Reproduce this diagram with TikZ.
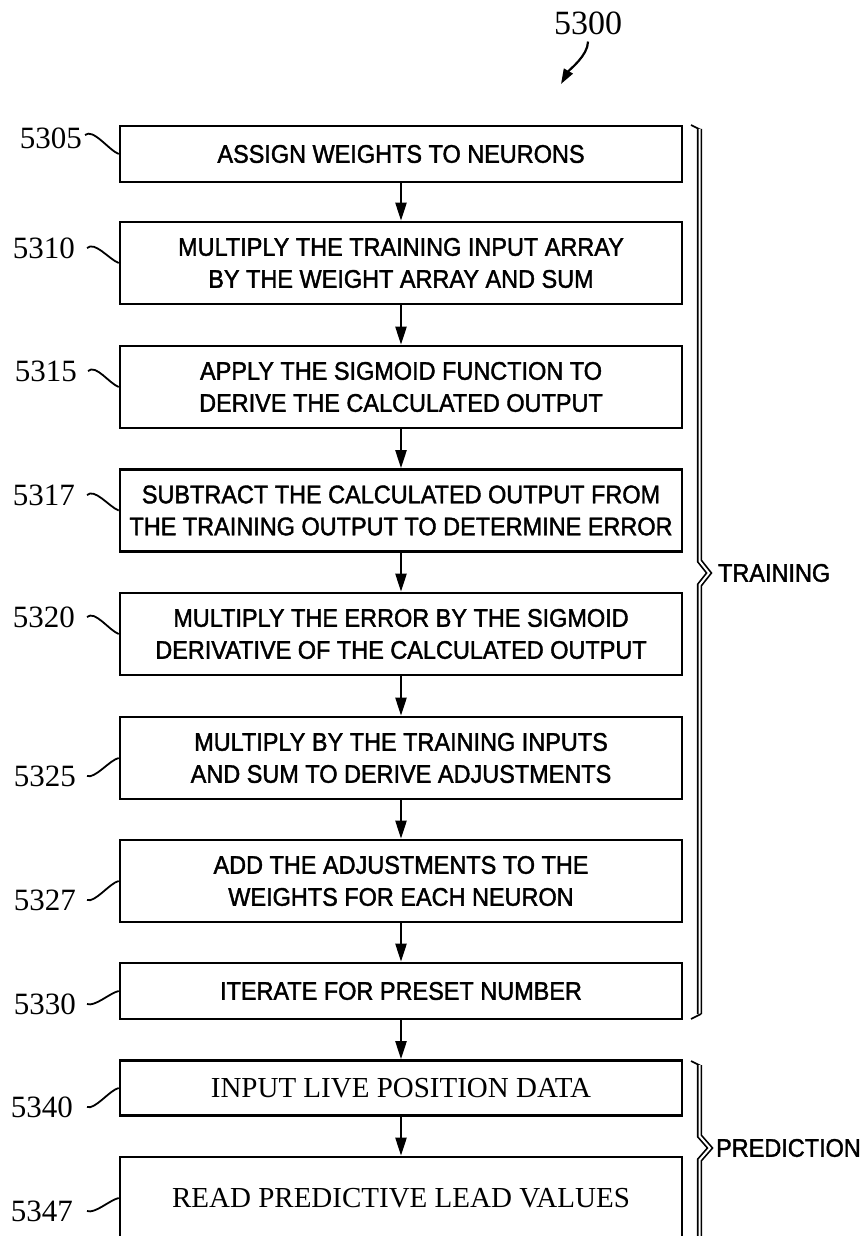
\documentclass[tikz,border=0pt]{standalone}
\usepackage{fontspec}
\setmainfont{Liberation Serif}
\setsansfont{Liberation Sans}
\newfontfamily\boxfont[FakeStretch=0.92,FakeBold=1.6]{Liberation Sans}
\usetikzlibrary{arrows.meta,shadows}

\begin{document}
\begin{tikzpicture}[x=1pt,y=-1pt,>={Triangle[length=18pt,width=11pt]},line width=2.2pt,
  box/.style={draw,fill=white,line width=2.6pt,minimum width=562pt,inner sep=0pt,align=center,
    general shadow={fill=black,shadow xshift=1.2pt,shadow yshift=-1.4pt},
    font=\boxfont\fontsize{25.5}{32}\selectfont},
  pbox/.style={box,font=\rmfamily\fontsize{29}{34}\selectfont},
  lbl/.style={anchor=east,inner sep=0pt,font=\rmfamily\fontsize{31}{31}\selectfont},
  brc/.style={double,double distance=2pt,line width=1.7pt},
  wig/.style={line width=1.8pt}]
\useasboundingbox (0,0) rectangle (865,1236);
\node[inner sep=0pt,font=\rmfamily\fontsize{34}{34}\selectfont] (n5300) at (588,23) {5300};
\coordinate (t5300) at (561,84);
\draw[->,>={Triangle[length=15pt,width=10pt]}] ([yshift=-6pt]n5300.south) .. controls +(0,14) and +(8,-14) .. (t5300);
% training steps
\node[box,minimum height=56pt] (b5305) at (401,154) {ASSIGN WEIGHTS TO NEURONS};
\node[box,minimum height=82pt] (b5310) at (401,263) {MULTIPLY THE TRAINING INPUT ARRAY\\BY THE WEIGHT ARRAY AND SUM};
\node[box,minimum height=82pt] (b5315) at (401,387) {APPLY THE SIGMOID FUNCTION TO\\DERIVE THE CALCULATED OUTPUT};
\node[box,minimum height=82pt] (b5317) at (401,510.5) {SUBTRACT THE CALCULATED OUTPUT FROM\\THE TRAINING OUTPUT TO DETERMINE ERROR};
\node[box,minimum height=82pt] (b5320) at (401,634) {MULTIPLY THE ERROR BY THE SIGMOID\\DERIVATIVE OF THE CALCULATED OUTPUT};
\node[box,minimum height=82pt] (b5325) at (401,758) {MULTIPLY BY THE TRAINING INPUTS\\AND SUM TO DERIVE ADJUSTMENTS};
\node[box,minimum height=82pt] (b5327) at (401,881) {ADD THE ADJUSTMENTS TO THE\\WEIGHTS FOR EACH NEURON};
\node[box,minimum height=56pt] (b5330) at (401,991) {ITERATE FOR PRESET NUMBER};
% prediction steps
\node[pbox,minimum height=55pt] (b5340) at (401,1088) {INPUT LIVE POSITION DATA};
\node[pbox,minimum height=82pt] (b5347) at (401,1198) {READ PREDICTIVE LEAD VALUES};
\draw[->] (b5305) -- (b5310);
\draw[->] (b5310) -- (b5315);
\draw[->] (b5315) -- (b5317);
\draw[->] (b5317) -- (b5320);
\draw[->] (b5320) -- (b5325);
\draw[->] (b5325) -- (b5327);
\draw[->] (b5327) -- (b5330);
\draw[->] (b5330) -- (b5340);
\draw[->] (b5340) -- (b5347);
% reference numerals
\node[lbl] (l5305) at (83,138) {5305};
\node[lbl] (l5310) at (76,248) {5310};
\node[lbl] (l5315) at (78,371) {5315};
\node[lbl] (l5317) at (76,495) {5317};
\node[lbl] (l5320) at (76,617) {5320};
\node[lbl] (l5325) at (77,776) {5325};
\node[lbl] (l5327) at (77,900) {5327};
\node[lbl] (l5330) at (77,1004) {5330};
\node[lbl] (l5340) at (74,1107) {5340};
\node[lbl] (l5347) at (74,1211) {5347};
\draw[wig] ([xshift=2pt,yshift=3pt]l5305.east) .. controls +(8,-7) and +(-10,-4) .. (b5305.west);
\draw[wig] ([xshift=11pt]l5310.east) .. controls +(8,-7) and +(-10,-4) .. (b5310.west);
\draw[wig] ([xshift=10pt]l5315.east) .. controls +(8,-7) and +(-10,-4) .. (b5315.west);
\draw[wig] ([xshift=11pt]l5317.east) .. controls +(8,-7) and +(-10,-4) .. (b5317.west);
\draw[wig] ([xshift=11pt]l5320.east) .. controls +(8,-7) and +(-10,-4) .. (b5320.west);
\draw[wig] ([xshift=10pt]l5325.east) .. controls +(8,3) and +(-9,2) .. (b5325.west);
\draw[wig] ([xshift=10pt]l5327.east) .. controls +(8,3) and +(-9,2) .. (b5327.west);
\draw[wig] ([xshift=10pt]l5330.east) .. controls +(8,3) and +(-9,2) .. (b5330.west);
\draw[wig] ([xshift=13pt]l5340.east) .. controls +(8,3) and +(-9,2) .. (b5340.west);
\draw[wig] ([xshift=13pt]l5347.east) .. controls +(8,3) and +(-9,2) .. (b5347.west);
% braces
\draw[line width=1.7pt] (691,125) -- (701,130);
\draw[brc] (699.5,129) -- (699.5,561) -- (709,573) -- (699.5,585) -- (699.5,1014);
\draw[line width=1.7pt] (691,1019) -- (701,1014);
\node[anchor=west,inner sep=0pt,font=\boxfont\fontsize{25.5}{26}\selectfont] (ttrain) at (717,573) {TRAINING};
\draw[line width=1.7pt] (691,1061) -- (701,1066);
\draw[brc] (699.5,1065) -- (699.5,1136) -- (710,1148) -- (699.5,1160) -- (699.5,1250);
\node[anchor=west,inner sep=0pt,font=\boxfont\fontsize{25.5}{26}\selectfont] (tpred) at (715,1148) {PREDICTION};
\end{tikzpicture}
\end{document}
